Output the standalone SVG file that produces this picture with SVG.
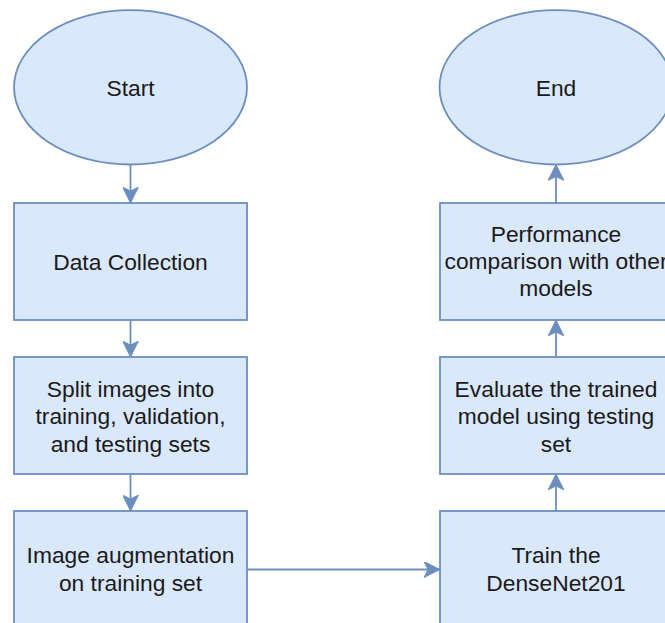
<svg xmlns="http://www.w3.org/2000/svg" width="665" height="623" viewBox="0 0 665 623">
  <style>
    .shape { fill: #dae8fc; stroke: #6c8ebf; stroke-width: 1.8; }
    .lbl { font-family: "Liberation Sans", Arial, Helvetica, sans-serif; font-size: 22.8px; fill: #1a1a1a; text-anchor: middle; }
    .edge { fill: none; stroke: #6c8ebf; stroke-width: 1.8; }
  </style>
  <defs>
    <marker id="arrow" markerUnits="userSpaceOnUse" markerWidth="16" markerHeight="16" viewBox="0 0 14 14" refX="14" refY="7" orient="auto">
      <path d="M0,0 L14,7 L0,14 L3.5,7 Z" fill="#6c8ebf" stroke="#6c8ebf" stroke-width="0.8"/>
    </marker>
  </defs>
  <rect width="665" height="623" fill="#ffffff"/>

  <g id="connectors">
    <line class="edge" x1="130.5" y1="164.5" x2="130.5" y2="203" marker-end="url(#arrow)"/>
    <line class="edge" x1="130.5" y1="320" x2="130.5" y2="357" marker-end="url(#arrow)"/>
    <line class="edge" x1="130.5" y1="474" x2="130.5" y2="511" marker-end="url(#arrow)"/>
    <line class="edge" x1="247" y1="569.5" x2="440" y2="569.5" marker-end="url(#arrow)"/>
    <line class="edge" x1="556" y1="511" x2="556" y2="474" marker-end="url(#arrow)"/>
    <line class="edge" x1="556" y1="357" x2="556" y2="320" marker-end="url(#arrow)"/>
    <line class="edge" x1="556" y1="203" x2="556" y2="164.5" marker-end="url(#arrow)"/>
  </g>

  <g id="start">
    <ellipse class="shape" cx="130.5" cy="87.3" rx="116.5" ry="77.2"/>
    <text class="lbl" x="130.5" y="95.7">Start</text>
  </g>

  <g id="data-collection">
    <rect class="shape" x="14" y="203" width="233" height="117"/>
    <text class="lbl" x="130.5" y="269.5">Data Collection</text>
  </g>

  <g id="split">
    <rect class="shape" x="14" y="357" width="233" height="117"/>
    <text class="lbl" x="130.5" y="396.5">Split images into</text>
    <text class="lbl" x="130.5" y="424">training, validation,</text>
    <text class="lbl" x="130.5" y="451.5">and testing sets</text>
  </g>

  <g id="augmentation">
    <rect class="shape" x="14" y="511" width="233" height="117"/>
    <text class="lbl" x="130.5" y="563">Image augmentation</text>
    <text class="lbl" x="130.5" y="590.6">on training set</text>
  </g>

  <g id="train">
    <rect class="shape" x="440" y="511" width="233" height="117"/>
    <text class="lbl" x="556" y="563">Train the</text>
    <text class="lbl" x="556" y="590.6">DenseNet201</text>
  </g>

  <g id="evaluate">
    <rect class="shape" x="440" y="357" width="233" height="117"/>
    <text class="lbl" x="556" y="396.5">Evaluate the trained</text>
    <text class="lbl" x="556" y="424">model using testing</text>
    <text class="lbl" x="556" y="451.5">set</text>
  </g>

  <g id="performance">
    <rect class="shape" x="440" y="203" width="233" height="117"/>
    <text class="lbl" x="556" y="241.5">Performance</text>
    <text class="lbl" x="556" y="268.5">comparison with other</text>
    <text class="lbl" x="556" y="295.5">models</text>
  </g>

  <g id="end">
    <ellipse class="shape" cx="556" cy="87.3" rx="116.5" ry="77.2"/>
    <text class="lbl" x="556" y="95.7">End</text>
  </g>
</svg>
